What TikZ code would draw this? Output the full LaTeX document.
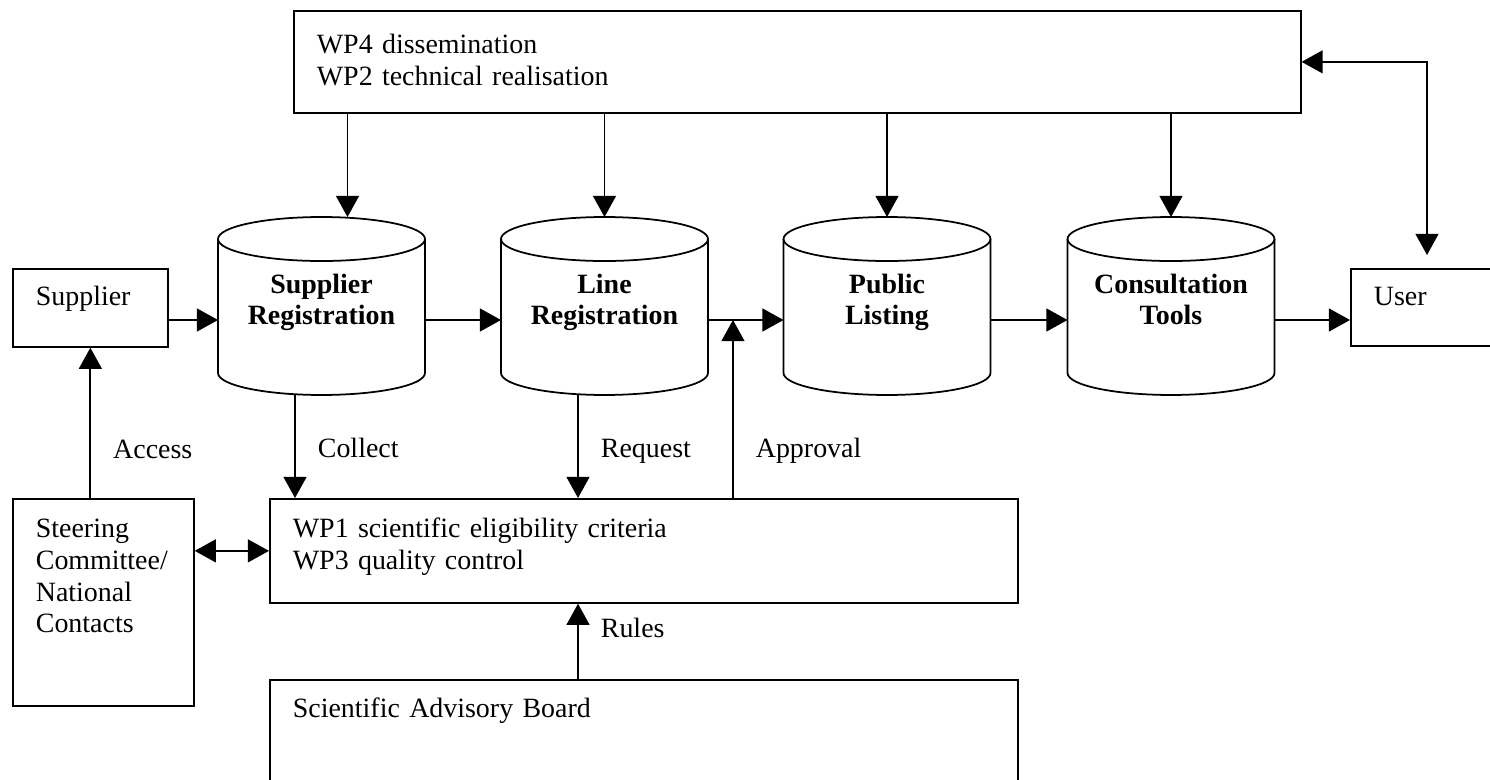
\documentclass[tikz,border=0pt]{standalone}
\usepackage{fontspec}
\setmainfont{Liberation Serif}
\usetikzlibrary{arrows.meta}

\newcommand{\diagfont}{\fontsize{15.9}{18}\selectfont}
% outline of a database drum round a named node
\newcommand{\drum}[1]{%
  \draw[line width=1pt] ([yshift=-0.44cm]#1.north west) -- ([yshift=0.44cm]#1.south west)
    arc[start angle=180, end angle=360, x radius=2.07cm, y radius=0.44cm]
    -- ([yshift=-0.44cm]#1.north east);
  \draw[line width=1pt] ([yshift=-0.44cm]#1.north) ellipse [x radius=2.07cm, y radius=0.44cm];}

\tikzset{
  wpbox/.style={draw=black, line width=1pt, anchor=north west, align=left,
    inner xsep=0.46cm, inner ysep=0pt, text height=0.78cm},
  db/.style={minimum width=4.14cm, inner sep=0pt, outer sep=0pt,
    text height=2.16cm, text depth=1.4cm, align=center, font=\diagfont\bfseries},
  arr/.style={-{Triangle[length=12pt,width=13pt]}, line width=1pt},
  arrs/.style={{Triangle[length=12pt,width=13pt]}-{Triangle[length=12pt,width=13pt]}, line width=1pt},
  lbl/.style={anchor=base west, inner sep=0pt, xshift=0.44cm},
}

\begin{document}
\begin{tikzpicture}[x=0.02cm, y=-0.02cm, font=\diagfont]
\useasboundingbox (0,0) rectangle (1490,780);
\coordinate (row) at (0,320);

% boxes
\node[wpbox, text width=19.22cm, text height=0.86cm, text depth=1.18cm] (wptop) at (293,10) {WP4 dissemination\\WP2 technical realisation};
\node[wpbox, text width=2.18cm, text height=0.74cm, text depth=0.82cm] (sup) at (12,268) {Supplier};
\node[wpbox, text width=3.08cm, text height=0.74cm, text depth=0.8cm] (user) at (1350,268) {User};
\node[wpbox, text width=2.7cm, text depth=3.36cm] (steer) at (12,498) {Steering\\Committee/\\National\\Contacts};
\node[wpbox, text width=14.04cm, text depth=1.3cm] (wp13) at (269,498) {WP1 scientific eligibility criteria\\WP3 quality control};
\node[wpbox, text width=14.04cm, text height=0.76cm, text depth=2.24cm] (sab) at (269,679) {Scientific Advisory Board};

% databases
\node[db] (sreg) at (321.5,306) {Supplier\\Registration};
\node[db] (lreg) at (604.5,306) {Line\\Registration};
\node[db] (plist) at (887,306) {Public\\Listing};
\node[db] (ctool) at (1171,306) {Consultation\\Tools};
\drum{sreg}
\drum{lreg}
\drum{plist}
\drum{ctool}

% main flow
\draw[arr] (sup.east |- row) -- (sreg.west |- row);
\draw[arr] (sreg.east |- row) -- (lreg.west |- row);
\draw[arr] (lreg.east |- row) -- (plist.west |- row);
\draw[arr] (plist.east |- row) -- (ctool.west |- row);
\draw[arr] (ctool.east |- row) -- (user.west |- row);

% from WP4/WP2
\draw[arr] ([xshift=0.52cm]sreg.north |- wptop.south) -- ([xshift=0.52cm]sreg.north);
\draw[arr] (lreg.north |- wptop.south) -- (lreg.north);
\draw[arr] (plist.north |- wptop.south) -- (plist.north);
\draw[arr] (ctool.north |- wptop.south) -- (ctool.north);
\coordinate (utip) at ([xshift=1.54cm,yshift=0.26cm]user.north west);
\draw[arrs] (wptop.east) -| (utip);

% lower part
\coordinate (junc) at ([xshift=0.5cm]lreg.east |- row);
\draw[arr] (sup.south |- steer.north) -- node[lbl, pos=0.263] {Access} (sup.south);
\draw[arr] ([xshift=-0.53cm]sreg.south) -- node[lbl, pos=0.61] {Collect} ([xshift=-0.53cm]sreg.south |- wp13.north);
\draw[arr] ([xshift=-0.53cm]lreg.south) -- node[lbl, pos=0.61] {Request} ([xshift=-0.53cm]lreg.south |- wp13.north);
\draw[arr] (junc |- wp13.north) -- node[lbl, pos=0.225] {Approval} (junc);
\draw[arr] ([xshift=-0.53cm]lreg.south |- sab.north) -- node[lbl, pos=0.545] {Rules} ([xshift=-0.53cm]lreg.south |- wp13.south);
\draw[arrs] (steer.east |- wp13.west) -- (wp13.west);
\end{tikzpicture}
\end{document}
